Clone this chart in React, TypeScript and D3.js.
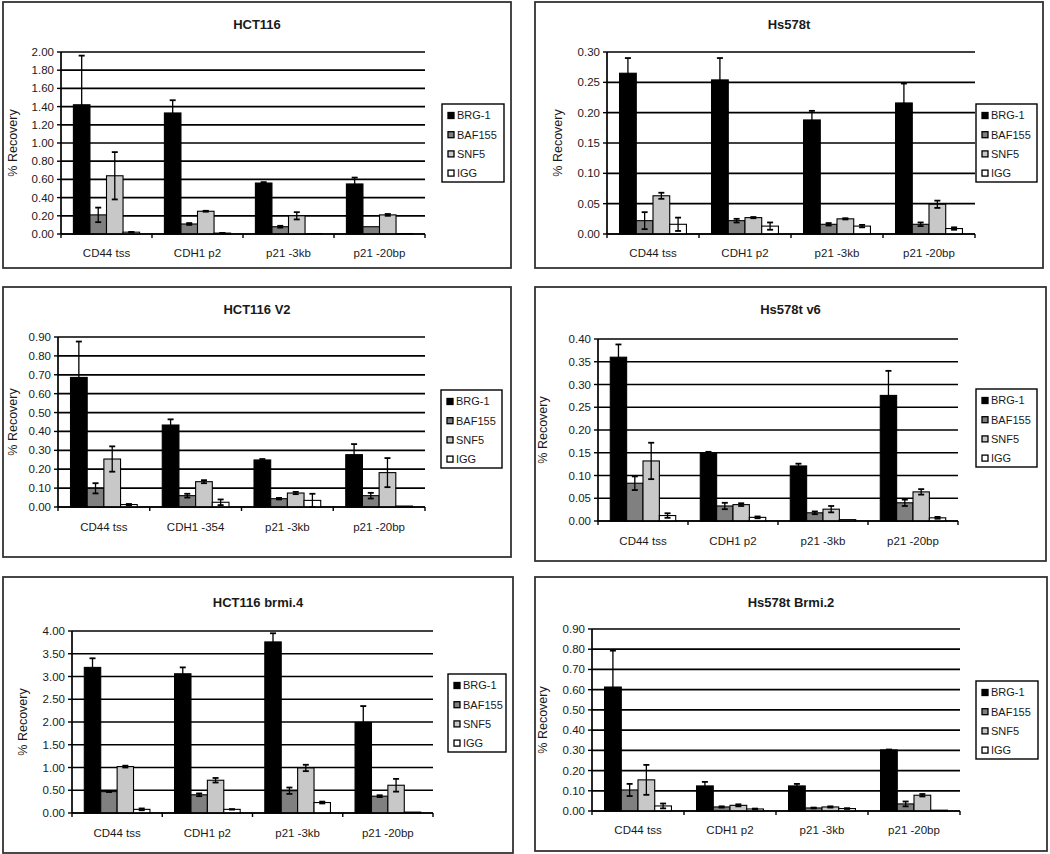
import React from "react";
import * as d3 from "d3";

const seriesNames = ["BRG-1", "BAF155", "SNF5", "IGG"];
const seriesColors = ["#000000", "#808080", "#c8c8c8", "#ffffff"];

const catsA = ["CD44 tss", "CDH1 p2", "p21 -3kb", "p21 -20bp"];
const catsV2 = ["CD44 tss", "CDH1 -354", "p21 -3kb", "p21 -20bp"];

// values[series][category]
const hct116Values = [
  [1.42, 1.33, 0.56, 0.55],
  [0.21, 0.11, 0.08, 0.08],
  [0.64, 0.25, 0.2, 0.21],
  [0.02, 0.01, 0.005, 0.005],
];
const hct116Errors = [
  [0.54, 0.14, 0.01, 0.07],
  [0.08, 0.01, 0.01, 0.0],
  [0.26, 0.005, 0.04, 0.01],
  [0.003, 0.002, 0.0, 0.0],
];
const hct116Ticks = [0, 0.2, 0.4, 0.6, 0.8, 1.0, 1.2, 1.4, 1.6, 1.8, 2.0];

const hsValues = [
  [0.265, 0.254, 0.188, 0.216],
  [0.022, 0.022, 0.016, 0.016],
  [0.063, 0.027, 0.025, 0.049],
  [0.016, 0.013, 0.013, 0.009],
];
const hsErrors = [
  [0.025, 0.036, 0.015, 0.032],
  [0.014, 0.003, 0.002, 0.003],
  [0.005, 0.001, 0.001, 0.006],
  [0.011, 0.006, 0.002, 0.002],
];
const hsTicks = [0, 0.05, 0.1, 0.15, 0.2, 0.25, 0.3];

const v2Values = [
  [0.686, 0.434, 0.249, 0.277],
  [0.099, 0.06, 0.044, 0.06],
  [0.254, 0.134, 0.074, 0.182],
  [0.013, 0.025, 0.035, 0.005],
];
const v2Errors = [
  [0.19, 0.03, 0.005, 0.056],
  [0.027, 0.01, 0.004, 0.015],
  [0.067, 0.008, 0.006, 0.077],
  [0.003, 0.015, 0.035, 0.0],
];
const v2Ticks = [0, 0.1, 0.2, 0.3, 0.4, 0.5, 0.6, 0.7, 0.8, 0.9];

const v6Values = [
  [0.36, 0.149, 0.121, 0.276],
  [0.083, 0.033, 0.018, 0.04],
  [0.132, 0.036, 0.026, 0.064],
  [0.012, 0.008, 0.003, 0.007],
];
const v6Errors = [
  [0.028, 0.003, 0.005, 0.054],
  [0.015, 0.007, 0.003, 0.007],
  [0.04, 0.003, 0.007, 0.006],
  [0.005, 0.002, 0.0, 0.002],
];
const v6Ticks = [0, 0.05, 0.1, 0.15, 0.2, 0.25, 0.3, 0.35, 0.4];

const brmi4Values = [
  [3.2, 3.06, 3.76, 1.99],
  [0.47, 0.4, 0.49, 0.37],
  [1.02, 0.72, 0.99, 0.61],
  [0.08, 0.08, 0.23, 0.02],
];
const brmi4Errors = [
  [0.2, 0.14, 0.19, 0.36],
  [0.01, 0.03, 0.07, 0.02],
  [0.02, 0.05, 0.07, 0.14],
  [0.02, 0.005, 0.02, 0.0],
];
const brmi4Ticks = [0, 0.5, 1.0, 1.5, 2.0, 2.5, 3.0, 3.5, 4.0];

const brmi2Values = [
  [0.613, 0.124, 0.124, 0.302],
  [0.104, 0.02, 0.015, 0.035],
  [0.154, 0.028, 0.02, 0.078],
  [0.025, 0.01, 0.012, 0.004],
];
const brmi2Errors = [
  [0.18, 0.02, 0.01, 0.002],
  [0.03, 0.003, 0.002, 0.012],
  [0.074, 0.005, 0.003, 0.006],
  [0.012, 0.002, 0.002, 0.0],
];
const brmi2Ticks = [0, 0.1, 0.2, 0.3, 0.4, 0.5, 0.6, 0.7, 0.8, 0.9];

const titles = ["HCT116", "Hs578t", "HCT116 V2", "Hs578t v6", "HCT116 brmi.4", "Hs578t Brmi.2"];

type Layout = {
  box: number[];
  plot: number[];
  legend: number[];
  titleY: number;
  ylabX: number;
  catY: number;
};

const layouts: Layout[] = [
  { box: [3, 2, 511, 268], plot: [61, 52, 425, 234], legend: [442, 104, 504, 182], titleY: 24, ylabX: 13, catY: 253 },
  { box: [535, 2, 1043, 268], plot: [607, 52, 975, 234], legend: [976, 104, 1037, 182], titleY: 24, ylabX: 558, catY: 253 },
  { box: [3, 287, 511, 557], plot: [58, 337, 425, 507], legend: [441, 390, 502, 468], titleY: 309, ylabX: 13, catY: 527 },
  { box: [535, 287, 1046, 561], plot: [598, 339, 958, 521], legend: [976, 389, 1037, 467], titleY: 309, ylabX: 543, catY: 541 },
  { box: [3, 577, 513, 853], plot: [72, 631, 433, 813], legend: [448, 674, 506, 752], titleY: 602, ylabX: 23, catY: 833 },
  { box: [535, 577, 1047, 851], plot: [592, 629, 960, 811], legend: [976, 681, 1038, 759], titleY: 602, ylabX: 543, catY: 830 },
];

const panelData = [
  { cats: catsA, values: hct116Values, errors: hct116Errors, ticks: hct116Ticks },
  { cats: catsA, values: hsValues, errors: hsErrors, ticks: hsTicks },
  { cats: catsV2, values: v2Values, errors: v2Errors, ticks: v2Ticks },
  { cats: catsA, values: v6Values, errors: v6Errors, ticks: v6Ticks },
  { cats: catsA, values: brmi4Values, errors: brmi4Errors, ticks: brmi4Ticks },
  { cats: catsA, values: brmi2Values, errors: brmi2Errors, ticks: brmi2Ticks },
];

const FONT = "Arial, 'Liberation Sans', Helvetica, sans-serif";
const TEXT = "#1a1a1a";

function Panel({ idx }: { idx: number }) {
  const L = layouts[idx];
  const D = panelData[idx];
  const [pl, pt, pr, pb] = L.plot;
  const [bl, bt, br, bb] = L.box;
  const [ll, lt, lr, lb] = L.legend;
  const yMax = D.ticks[D.ticks.length - 1];
  const x = d3.scaleBand<string>().domain(D.cats).range([pl, pr]);
  const y = d3.scaleLinear().domain([0, yMax]).range([pb, pt]);
  const bw = x.bandwidth();
  const barW = bw / 5.5;
  const xs = d3.scaleBand<string>().domain(seriesNames).range([0.75 * barW, bw - 0.75 * barW]);
  const fmt = d3.format(".2f");
  const cap = 3;

  return (
    <g>
      <rect x={bl} y={bt} width={br - bl} height={bb - bt} fill="#fff" stroke="#333" strokeWidth={1.8} />
      <text x={(bl + br) / 2} y={L.titleY} dy="0.35em" textAnchor="middle" fontFamily={FONT} fontWeight="bold" fontSize={13} fill={TEXT}>
        {titles[idx]}
      </text>
      {/* gridlines */}
      {D.ticks.map((t) => (
        <line key={"g" + t} x1={pl} x2={pr} y1={y(t)} y2={y(t)} stroke="#000" strokeWidth={1.7} />
      ))}
      {/* bars */}
      {seriesNames.map((s, si) =>
        D.cats.map((c, ci) => {
          const v = D.values[si][ci];
          const bx = (x(c) as number) + (xs(s) as number);
          return (
            <rect key={s + c} x={bx} y={y(v)} width={barW} height={pb - y(v)} fill={seriesColors[si]} stroke="#000" strokeWidth={1.1} />
          );
        })
      )}
      {/* error bars */}
      {seriesNames.map((s, si) =>
        D.cats.map((c, ci) => {
          const v = D.values[si][ci];
          const e = D.errors[si][ci];
          if (e <= 0) return null;
          const cx = (x(c) as number) + (xs(s) as number) + barW / 2;
          const yTop = y(v + e);
          const yBot = y(Math.max(0, v - e));
          return (
            <g key={"e" + s + c} stroke="#000" strokeWidth={1.3}>
              <line x1={cx} x2={cx} y1={yTop} y2={yBot} />
              <line x1={cx - cap} x2={cx + cap} y1={yTop} y2={yTop} strokeWidth={1.8} />
              <line x1={cx - cap} x2={cx + cap} y1={yBot} y2={yBot} strokeWidth={1.8} />
            </g>
          );
        })
      )}
      {/* y axis */}
      <line x1={pl} x2={pl} y1={pt} y2={pb} stroke="#000" strokeWidth={1.7} />
      {D.ticks.map((t) => (
        <g key={"t" + t}>
          <line x1={pl - 4} x2={pl} y1={y(t)} y2={y(t)} stroke="#000" strokeWidth={1.4} />
          <text x={pl - 7} y={y(t)} dy="0.35em" textAnchor="end" fontFamily={FONT} fontSize={11.5} fill={TEXT}>
            {fmt(t)}
          </text>
        </g>
      ))}
      {/* x axis */}
      <line x1={pl} x2={pr} y1={pb} y2={pb} stroke="#000" strokeWidth={1.7} />
      {D.cats.map((c, ci) => (
        <g key={"x" + c}>
          <line x1={(x(c) as number) + bw} x2={(x(c) as number) + bw} y1={pb} y2={pb + 4} stroke="#000" strokeWidth={1.4} />
          {ci === 0 && <line x1={pl} x2={pl} y1={pb} y2={pb + 4} stroke="#000" strokeWidth={1.4} />}
          <text x={(x(c) as number) + bw / 2} y={L.catY} dy="0.35em" textAnchor="middle" fontFamily={FONT} fontSize={11.5} fill={TEXT}>
            {c}
          </text>
        </g>
      ))}
      {/* y label */}
      <text
        transform={`translate(${L.ylabX},${(pt + pb) / 2}) rotate(-90)`}
        dy="0.35em"
        textAnchor="middle"
        fontFamily={FONT}
        fontSize={12.5}
        fill={TEXT}
      >
        % Recovery
      </text>
      {/* legend */}
      <rect x={ll} y={lt} width={lr - ll} height={lb - lt} fill="#fff" stroke="#000" strokeWidth={1.4} />
      {seriesNames.map((s, si) => {
        const cy = lt + 11.5 + si * 19.2;
        return (
          <g key={"l" + s}>
            <rect x={ll + 6} y={cy - 3} width={6} height={6} fill={seriesColors[si]} stroke="#000" strokeWidth={1.3} />
            <text x={ll + 15} y={cy} dy="0.35em" fontFamily={FONT} fontSize={11} fill={TEXT}>
              {s}
            </text>
          </g>
        );
      })}
    </g>
  );
}

export default function App() {
  return (
    <svg
      width={1050}
      height={854}
      viewBox="0 0 1050 854"
      style={{ position: "absolute", left: 0, top: 0, background: "#fff" }}
    >
      <rect x={0} y={0} width={1050} height={854} fill="#fff" />
      {layouts.map((_, i) => (
        <Panel key={i} idx={i} />
      ))}
    </svg>
  );
}
